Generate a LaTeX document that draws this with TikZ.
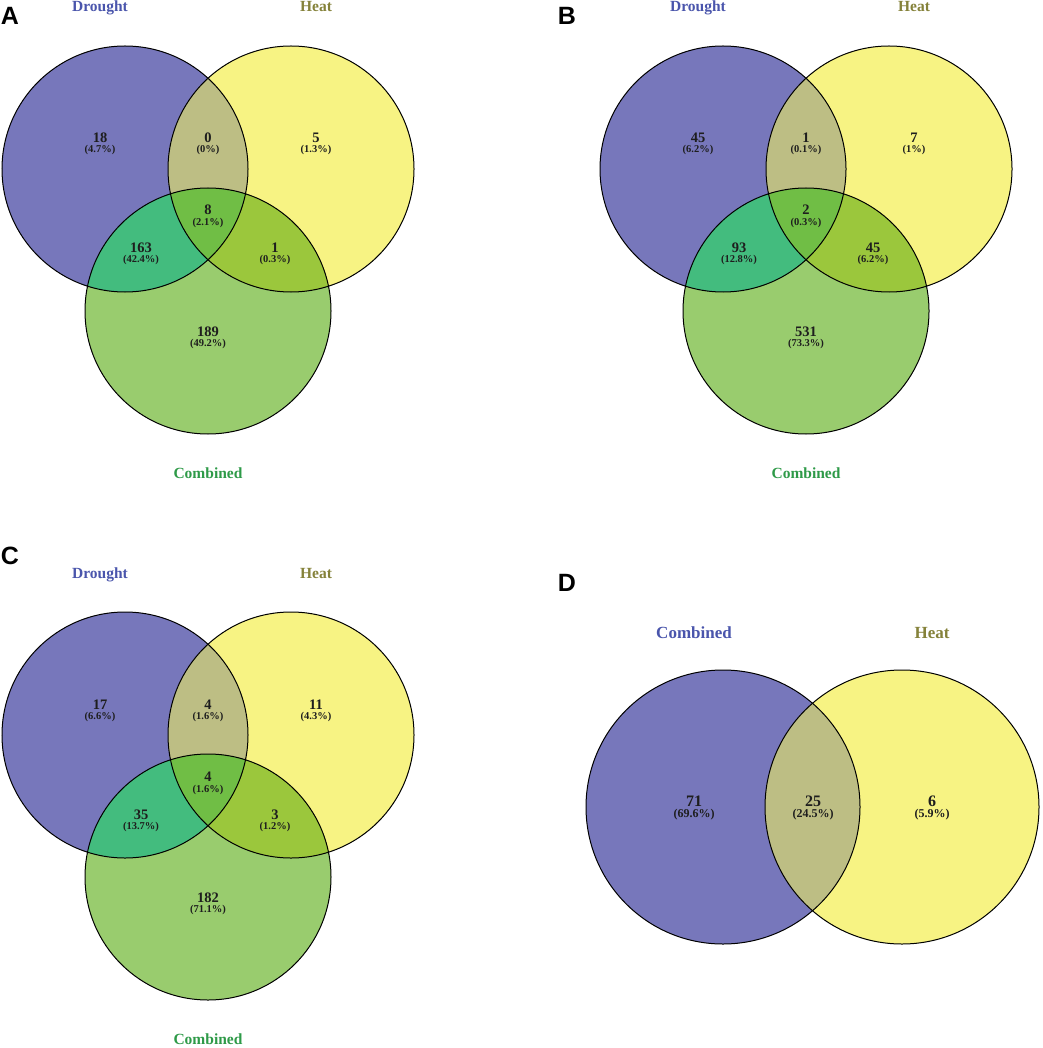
\documentclass[tikz,border=0pt]{standalone}
\usepackage{fontspec}
\setmainfont{Liberation Serif}
\newfontfamily\panelfont{Liberation Sans}
\definecolor{cD}{HTML}{7777BB}
\definecolor{cH}{HTML}{F7F383}
\definecolor{cC}{HTML}{99CC6E}
\definecolor{cDH}{HTML}{BDBE84}
\definecolor{cDC}{HTML}{43BC7E}
\definecolor{cHC}{HTML}{9BC73C}
\definecolor{cDHC}{HTML}{70BE45}
\definecolor{tD}{HTML}{4A55AC}
\definecolor{tH}{HTML}{85823A}
\definecolor{tC}{HTML}{2E9A48}
\definecolor{tN}{HTML}{1E1E1E}
\tikzset{
  setlabel/.style={font=\bfseries\fontsize{15.5}{16}\selectfont, anchor=base, inner sep=0pt},
  cnt/.style={font=\bfseries\fontsize{14.5}{15}\selectfont, anchor=base, text=tN, inner sep=0pt},
  pct/.style={font=\bfseries\fontsize{10.5}{11}\selectfont, anchor=base, text=tN, inner sep=0pt},
  bigsetlabel/.style={font=\bfseries\fontsize{17}{18}\selectfont, anchor=base, inner sep=0pt},
  bigcnt/.style={font=\bfseries\fontsize{16}{17}\selectfont, anchor=base, text=tN, inner sep=0pt},
  bigpct/.style={font=\bfseries\fontsize{12}{13}\selectfont, anchor=base, text=tN, inner sep=0pt},
  panel/.style={font=\panelfont\bfseries\fontsize{25}{26}\selectfont, inner sep=0pt},
  ring/.style={draw=black, line width=1pt},
}
\newcommand\ThreeCircles{%
  \fill[cD] (125,169) circle[radius=123];
  \fill[cH] (291,169) circle[radius=123];
  \fill[cC] (208,311) circle[radius=123];
  \begin{scope}
    \clip (125,169) circle[radius=123];
    \fill[cDH] (291,169) circle[radius=123];
    \fill[cDC] (208,311) circle[radius=123];
  \end{scope}
  \begin{scope}
    \clip (291,169) circle[radius=123];
    \fill[cHC] (208,311) circle[radius=123];
  \end{scope}
  \begin{scope}
    \clip (125,169) circle[radius=123];
    \clip (291,169) circle[radius=123];
    \fill[cDHC] (208,311) circle[radius=123];
  \end{scope}
  \draw[ring] (125,169) circle[radius=123];
  \draw[ring] (291,169) circle[radius=123];
  \draw[ring] (208,311) circle[radius=123];
}
\begin{document}
\begin{tikzpicture}[x=1pt,y=-1pt]
\useasboundingbox (0,0) rectangle (1042,1048);
\fill[white] (0,0) rectangle (1042,1048);

% ---------- Panel A ----------
\begin{scope}
  \ThreeCircles
  \node[panel] (pA) at (10,16) {A};
  \node[setlabel, text=tD] (aDl) at (100,12) {Drought};
  \node[setlabel, text=tH] (aHl) at (316,12) {Heat};
  \node[setlabel, text=tC] (aCl) at (208,478) {Combined};
  \node[cnt] (a1) at (100,143) {18};   \node[pct] (a1p) at (100,153) {(4.7\%)};
  \node[cnt] (a2) at (208,143) {0};    \node[pct] (a2p) at (208,153) {(0\%)};
  \node[cnt] (a3) at (316,143) {5};    \node[pct] (a3p) at (316,153) {(1.3\%)};
  \node[cnt] (a4) at (208,215) {8};    \node[pct] (a4p) at (208,226) {(2.1\%)};
  \node[cnt] (a5) at (141,253) {163};  \node[pct] (a5p) at (141,263) {(42.4\%)};
  \node[cnt] (a6) at (275,253) {1};    \node[pct] (a6p) at (275,263) {(0.3\%)};
  \node[cnt] (a7) at (208,336) {189};  \node[pct] (a7p) at (208,346) {(49.2\%)};
\end{scope}

% ---------- Panel B ----------
\node[panel] (pB) at (567,16) {B};
\begin{scope}[shift={(598,0)}]
  \ThreeCircles
  \node[setlabel, text=tD] (bDl) at (100,12) {Drought};
  \node[setlabel, text=tH] (bHl) at (316,12) {Heat};
  \node[setlabel, text=tC] (bCl) at (208,478) {Combined};
  \node[cnt] (b1) at (100,143) {45};   \node[pct] (b1p) at (100,153) {(6.2\%)};
  \node[cnt] (b2) at (208,143) {1};    \node[pct] (b2p) at (208,153) {(0.1\%)};
  \node[cnt] (b3) at (316,143) {7};    \node[pct] (b3p) at (316,153) {(1\%)};
  \node[cnt] (b4) at (208,215) {2};    \node[pct] (b4p) at (208,226) {(0.3\%)};
  \node[cnt] (b5) at (141,253) {93};   \node[pct] (b5p) at (141,263) {(12.8\%)};
  \node[cnt] (b6) at (275,253) {45};   \node[pct] (b6p) at (275,263) {(6.2\%)};
  \node[cnt] (b7) at (208,336) {531};  \node[pct] (b7p) at (208,346) {(73.3\%)};
\end{scope}

% ---------- Panel C ----------
\node[panel] (pC) at (10,556) {C};
\begin{scope}[shift={(0,566)}]
  \ThreeCircles
  \node[setlabel, text=tD] (cDl) at (100,12) {Drought};
  \node[setlabel, text=tH] (cHl) at (316,12) {Heat};
  \node[setlabel, text=tC] (cCl) at (208,478) {Combined};
  \node[cnt] (c1) at (100,143) {17};   \node[pct] (c1p) at (100,153) {(6.6\%)};
  \node[cnt] (c2) at (208,143) {4};    \node[pct] (c2p) at (208,153) {(1.6\%)};
  \node[cnt] (c3) at (316,143) {11};   \node[pct] (c3p) at (316,153) {(4.3\%)};
  \node[cnt] (c4) at (208,215) {4};    \node[pct] (c4p) at (208,226) {(1.6\%)};
  \node[cnt] (c5) at (141,253) {35};   \node[pct] (c5p) at (141,263) {(13.7\%)};
  \node[cnt] (c6) at (275,253) {3};    \node[pct] (c6p) at (275,263) {(1.2\%)};
  \node[cnt] (c7) at (208,336) {182};  \node[pct] (c7p) at (208,346) {(71.1\%)};
\end{scope}

% ---------- Panel D ----------
\node[panel] (pD) at (567,583) {D};
\fill[cD] (723,807) circle[radius=137];
\fill[cH] (902,807) circle[radius=137];
\begin{scope}
  \clip (723,807) circle[radius=137];
  \fill[cDH] (902,807) circle[radius=137];
\end{scope}
\draw[ring] (723,807) circle[radius=137];
\draw[ring] (902,807) circle[radius=137];
\node[bigsetlabel, text=tD] (dCl) at (694,638) {Combined};
\node[bigsetlabel, text=tH] (dHl) at (932,638) {Heat};
\node[bigcnt] (d1) at (694,806) {71};  \node[bigpct] (d1p) at (694,817) {(69.6\%)};
\node[bigcnt] (d2) at (813,806) {25};  \node[bigpct] (d2p) at (813,817) {(24.5\%)};
\node[bigcnt] (d3) at (932,806) {6};   \node[bigpct] (d3p) at (932,817) {(5.9\%)};
\end{tikzpicture}
\end{document}
